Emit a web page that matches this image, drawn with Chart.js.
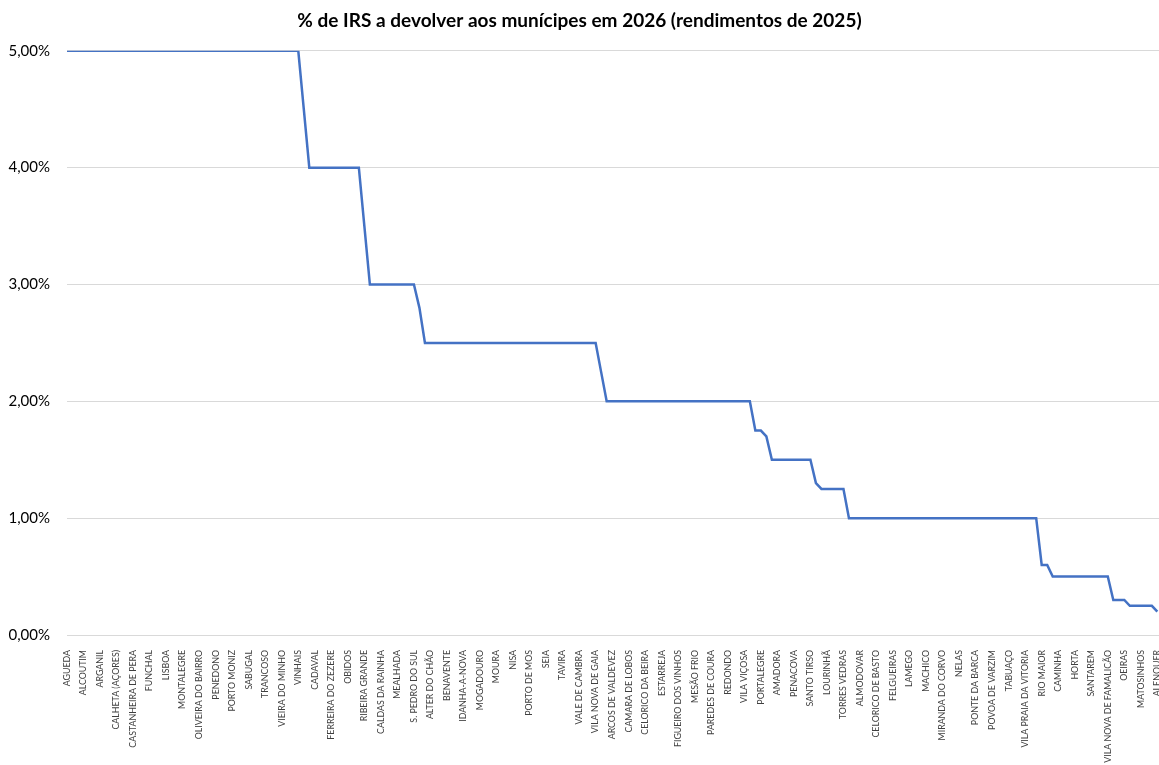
<!DOCTYPE html>
<html>
<head>
<meta charset="utf-8">
<script src="https://cdn.jsdelivr.net/npm/chart.js@4/dist/chart.umd.min.js"></script>
<style>
  html, body { margin: 0; padding: 0; background: #fff; }
  #wrap { width: 1159px; height: 765px; }
</style>
</head>
<body>
<div id="wrap"><canvas id="irsChart" width="1159" height="765"></canvas></div>
<script>
// labels shown on the axis (Excel shows one every 3 municipalities)
const labelStep = 3;
const municipios = [
  'AGUEDA', 'ALCOUTIM', 'ARGANIL', 'CALHETA (AÇORES)', 'CASTANHEIRA DE PERA',
  'FUNCHAL', 'LISBOA', 'MONTALEGRE', 'OLIVEIRA DO BAIRRO', 'PENEDONO',
  'PORTO MONIZ', 'SABUGAL', 'TRANCOSO', 'VIEIRA DO MINHO', 'VINHAIS',
  'CADAVAL', 'FERREIRA DO ZEZERE', 'OBIDOS', 'RIBEIRA GRANDE', 'CALDAS DA RAINHA',
  'MEALHADA', 'S. PEDRO DO SUL', 'ALTER DO CHÃO', 'BENAVENTE', 'IDANHA-A-NOVA',
  'MOGADOURO', 'MOURA', 'NISA', 'PORTO DE MOS', 'SEIA',
  'TAVIRA', 'VALE DE CAMBRA', 'VILA NOVA DE GAIA', 'ARCOS DE VALDEVEZ', 'CAMARA DE LOBOS',
  'CELORICO DA BEIRA', 'ESTARREJA', 'FIGUEIRO DOS VINHOS', 'MESÃO FRIO', 'PAREDES DE COURA',
  'REDONDO', 'VILA VIÇOSA', 'PORTALEGRE', 'AMADORA', 'PENACOVA',
  'SANTO TIRSO', 'LOURINHÃ', 'TORRES VEDRAS', 'ALMODOVAR', 'CELORICO DE BASTO',
  'FELGUEIRAS', 'LAMEGO', 'MACHICO', 'MIRANDA DO CORVO', 'NELAS',
  'PONTE DA BARCA', 'POVOA DE VARZIM', 'TABUAÇO', 'VILA PRAIA DA VITORIA', 'RIO MAIOR',
  'CAMINHA', 'HORTA', 'SANTAREM', 'VILA NOVA DE FAMALICÃO', 'OEIRAS',
  'MATOSINHOS', 'ALENQUER'
];

// position (municipality rank) where the value changes, and the % at that rank
const posicao = [0, 42, 43, 44, 53, 54, 55, 63, 64, 65, 96, 97, 98, 124, 125, 126, 127, 128,
  135, 136, 137, 141, 142, 176, 177, 178, 179, 189, 190, 192, 193, 197, 198];
const percentagem = [5, 5, 4.5, 4, 4, 3.5, 3, 3, 2.8, 2.5, 2.5, 2.25, 2, 2, 1.75, 1.75, 1.7, 1.5,
  1.5, 1.3, 1.25, 1.25, 1, 1, 0.6, 0.6, 0.5, 0.5, 0.3, 0.3, 0.25, 0.25, 0.2];

const yTicks = [0, 1, 2, 3, 4, 5];

const points = posicao.map((p, i) => ({ x: p, y: percentagem[i] }));

const fontFamily = 'Lato, "Open Sans", sans-serif';

new Chart(document.getElementById('irsChart'), {
  type: 'line',
  data: {
    datasets: [{
      label: '% IRS',
      data: points,
      borderColor: '#4472C4',
      borderWidth: 2.5,
      pointRadius: 0,
      tension: 0,
      fill: false
    }]
  },
  options: {
    responsive: false,
    animation: false,
    layout: { padding: { left: 0, right: 0, top: 0, bottom: 0 } },
    plugins: {
      legend: { display: false },
      tooltip: { enabled: false },
      title: {
        display: true,
        text: '% de IRS a devolver aos munícipes em 2026 (rendimentos de 2025)',
        color: '#000',
        font: { family: fontFamily, size: 19, weight: 'bold' },
        padding: { top: 9, bottom: 19 }
      }
    },
    scales: {
      x: {
        type: 'linear',
        min: 0,
        max: 198.3,
        grid: { display: false },
        border: { display: false },
        afterBuildTicks: (axis) => {
          axis.ticks = municipios.map((_, i) => ({ value: i * labelStep }));
        },
        afterFit: (axis) => {
          axis.height = 130;
          axis.paddingLeft = 0;
          axis.paddingRight = 0;
        },
        ticks: {
          autoSkip: false,
          maxRotation: 90,
          minRotation: 90,
          padding: 7,
          color: '#404040',
          font: { family: fontFamily, size: 8.8 },
          callback: (value) => municipios[Math.round(value / labelStep)] || ''
        }
      },
      y: {
        min: 0,
        max: 5,
        grid: { color: '#d9d9d9', lineWidth: 1, drawTicks: false },
        border: { display: false },
        afterBuildTicks: (axis) => {
          axis.ticks = yTicks.map(v => ({ value: v }));
        },
        afterFit: (axis) => { axis.width = 67; },
        ticks: {
          padding: 17,
          color: '#000',
          font: { family: fontFamily, size: 15 },
          callback: (value) => value.toFixed(2).replace('.', ',') + '%'
        }
      }
    }
  }
});
</script>
</body>
</html>
